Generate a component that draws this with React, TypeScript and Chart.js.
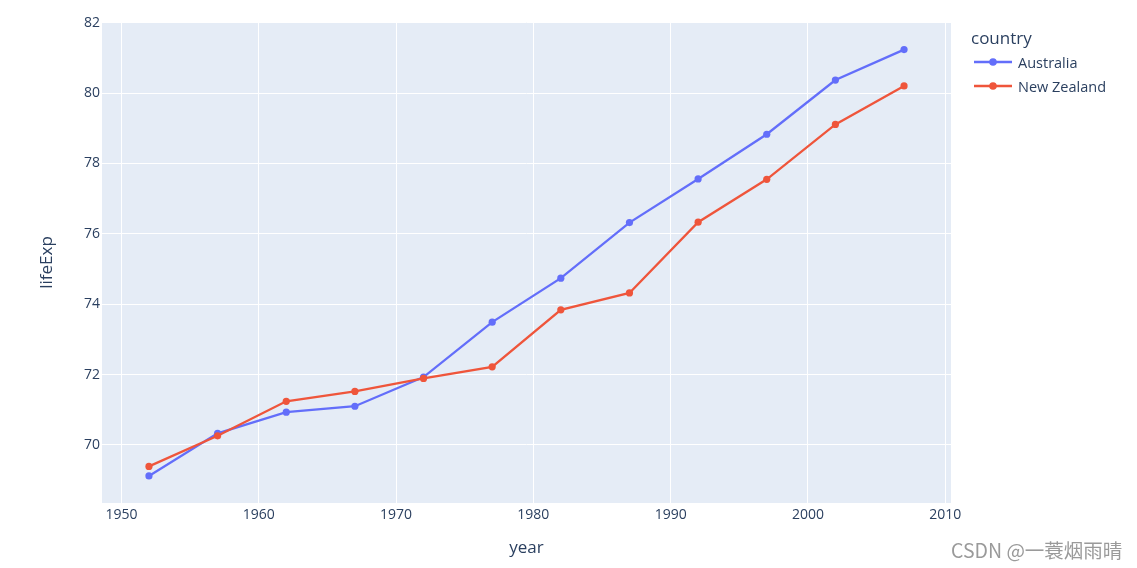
import React, { useEffect, useRef } from "react";
import { Chart, registerables } from "chart.js";

Chart.register(...registerables);

const years = [1952, 1957, 1962, 1967, 1972, 1977, 1982, 1987, 1992, 1997, 2002, 2007];
const australia = [69.12, 70.33, 70.93, 71.1, 71.93, 73.49, 74.74, 76.32, 77.56, 78.83, 80.37, 81.235];
const newZealand = [69.39, 70.26, 71.24, 71.52, 71.89, 72.22, 73.84, 74.32, 76.33, 77.55, 79.11, 80.204];
const xTicks = [1950, 1960, 1970, 1980, 1990, 2000, 2010];
const yTicks = [70, 72, 74, 76, 78, 80, 82];
const seriesNames = ["Australia", "New Zealand"];
const seriesColors = ["#636efa", "#EF553B"];

const TEXT = "#2a3f5f";
const FONT = "'Open Sans', 'Noto Sans', sans-serif";

const bgPlugin = {
  id: "plotBg",
  beforeDraw(chart: any) {
    const { ctx, chartArea } = chart;
    ctx.save();
    ctx.fillStyle = "#E5ECF6";
    ctx.fillRect(chartArea.left, chartArea.top, chartArea.right - chartArea.left, chartArea.bottom - chartArea.top);
    ctx.restore();
  },
};

export default function App() {
  const ref = useRef<HTMLCanvasElement | null>(null);

  useEffect(() => {
    if (!ref.current) return;
    const chart = new Chart(ref.current, {
      type: "line",
      data: {
        datasets: [
          {
            label: seriesNames[0],
            data: years.map((y, i) => ({ x: y, y: australia[i] })),
            borderColor: seriesColors[0],
            backgroundColor: seriesColors[0],
            pointBackgroundColor: seriesColors[0],
            borderWidth: 2.3,
            pointRadius: 3.6,
            pointBorderWidth: 0,
            tension: 0,
            order: 1,
          },
          {
            label: seriesNames[1],
            data: years.map((y, i) => ({ x: y, y: newZealand[i] })),
            borderColor: seriesColors[1],
            backgroundColor: seriesColors[1],
            pointBackgroundColor: seriesColors[1],
            borderWidth: 2.3,
            pointRadius: 3.6,
            pointBorderWidth: 0,
            tension: 0,
            order: 0,
          },
        ],
      },
      options: {
        responsive: false,
        animation: false,
        layout: { padding: { left: 0, top: 22, right: 186, bottom: 0 } },
        plugins: { legend: { display: false }, tooltip: { enabled: false } },
        scales: {
          x: {
            type: "linear",
            min: 1948.58,
            max: 2010.42,
            afterBuildTicks: (s: any) => {
              s.ticks = xTicks.map((v) => ({ value: v }));
            },
            afterFit: (s: any) => {
              s.height = 65;
            },
            grid: { color: "#ffffff", lineWidth: 1, drawTicks: false },
            border: { display: false },
            ticks: {
              color: TEXT,
              font: { family: FONT, size: 14 },
              padding: 4,
              maxRotation: 0,
              callback: (v: any) => String(v),
            },
            title: {
              display: true,
              text: "year",
              color: TEXT,
              font: { family: FONT, size: 17 },
              padding: { top: 0, bottom: 10 },
            },
          },
          y: {
            type: "linear",
            min: 68.35,
            max: 82.02,
            afterBuildTicks: (s: any) => {
              s.ticks = yTicks.map((v) => ({ value: v }));
            },
            afterFit: (s: any) => {
              s.width = 102;
            },
            grid: { color: "#ffffff", lineWidth: 1, drawTicks: false },
            border: { display: false },
            ticks: {
              color: TEXT,
              font: { family: FONT, size: 14 },
              padding: 2,
              callback: (v: any) => String(v),
            },
            title: {
              display: true,
              text: "lifeExp",
              color: TEXT,
              font: { family: FONT, size: 17 },
              padding: { top: 37, bottom: 0 },
            },
          },
        },
      },
      plugins: [bgPlugin],
    } as any);
    return () => chart.destroy();
  }, []);

  const legendItem = (i: number, top: number) => (
    <div key={i} style={{ position: "absolute", left: 974, top: top - 10, height: 20, display: "flex", alignItems: "center" }}>
      <svg width={40} height={20} style={{ display: "block" }}>
        <line x1={0} y1={10} x2={38} y2={10} stroke={seriesColors[i]} strokeWidth={2.3} />
        <circle cx={19} cy={10} r={3.8} fill={seriesColors[i]} />
      </svg>
      <span style={{ marginLeft: 4, fontFamily: FONT, fontSize: 14.5, color: TEXT, whiteSpace: "nowrap" }}>{seriesNames[i]}</span>
    </div>
  );

  return (
    <div style={{ position: "absolute", left: 0, top: 0, width: 1137, height: 568, background: "#fff" }}>
      <canvas ref={ref} width={1137} height={568} style={{ display: "block" }} />
      <div style={{ position: "absolute", left: 951, top: 536, fontFamily: "'Noto Sans CJK SC', 'Noto Sans', sans-serif", fontSize: 19.5, color: "#9a9a9a", lineHeight: "28px", whiteSpace: "nowrap" }}>CSDN @一蓑烟雨晴</div>
      <div style={{ position: "absolute", left: 971, top: 26, fontFamily: FONT, fontSize: 17, color: TEXT, lineHeight: "24px", whiteSpace: "nowrap" }}>country</div>
      {legendItem(0, 62)}
      {legendItem(1, 86)}
    </div>
  );
}
